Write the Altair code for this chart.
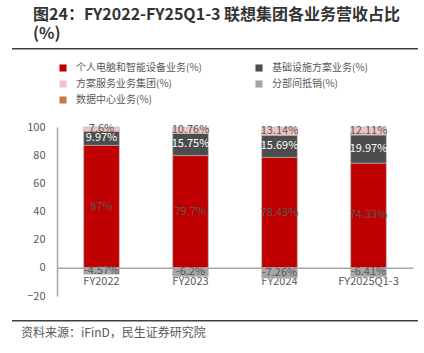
import altair as alt
import pandas as pd

FONT = "Noto Sans CJK SC"

cats = ["FY2022", "FY2023", "FY2024", "FY2025Q1-3"]
series = ["个人电脑和智能设备业务(%)", "基础设施方案业务(%)", "方案服务业务集团(%)",
          "分部间抵销(%)", "数据中心业务(%)"]
pc = [87, 79.7, 78.43, 74.33]
isg = [9.97, 15.75, 15.69, 19.97]
ssg = [7.6, 10.76, 13.14, 12.11]
elim = [-4.57, -6.2, -7.26, -6.41]
dc = [None, None, None, None]
colors = ["#C00000", "#4D4D4D", "#F2C4C4", "#A6A6A6", "#C87941"]
label_colors = ["#595959", "#FFFFFF", "#595959", "#595959", "#595959"]
legend_order = [0, 2, 4, 1, 3]  # column-major fill -> reads row by row as in reference
y_ticks = [-20, 0, 20, 40, 60, 80, 100]

title1 = "图24：FY2022-FY25Q1-3 联想集团各业务营收占比"
title2 = "(%)"
source = "资料来源：iFinD，民生证券研究院"

rows = []
for i, c in enumerate(cats):
    for k, vals in enumerate([pc, isg, ssg, elim, dc]):
        v = vals[i]
        if v is None:
            continue
        rows.append({"cat": c, "series": series[k], "value": v, "order": k,
                     "label": f"{v:g}%", "lc": label_colors[k]})
df = pd.DataFrame(rows)

leg_domain = [series[k] for k in legend_order]
leg_range = [colors[k] for k in legend_order]

base = alt.Chart(df).transform_stack(
    stack="value", groupby=["cat"], as_=["y0", "y1"],
    sort=[alt.SortField(field="order", order="ascending")]
).transform_calculate(
    y0c="max(min(datum.y0, 100), -20)",
    y1c="max(min(datum.y1, 100), -20)",
).transform_calculate(
    mid="(datum.y0c + datum.y1c) / 2"
)

yaxis = alt.Axis(title=None, values=y_ticks, grid=False, ticks=False, tickSize=0,
                 labelPadding=12, labelFontSize=11, labelColor="#595959", labelFont=FONT,
                 domainColor="#A6A6A6", domainWidth=1.5, labelOverlap=False)
xaxis = alt.Axis(title=None, orient="bottom", offset=-28.2, ticks=False, tickSize=0,
                 labelPadding=8, labelFontSize=11, labelColor="#595959", labelFont=FONT,
                 domainColor="#A6A6A6", domainWidth=1.5, labelAngle=0, grid=False)

bars = base.mark_bar(stroke="#B5B5B5", strokeWidth=0.6).encode(
    x=alt.X("cat:N", sort=cats, scale=alt.Scale(paddingInner=0.6, paddingOuter=0.3), axis=xaxis),
    y=alt.Y("y0c:Q", scale=alt.Scale(domain=[-20, 100], nice=False, zero=False), axis=yaxis),
    y2="y1c:Q",
    color=alt.Color("series:N", scale=alt.Scale(domain=leg_domain, range=leg_range),
                    legend=alt.Legend(title=None, orient="none", legendX=1, legendY=-64,
                                      columns=2, columnPadding=52, rowPadding=6,
                                      symbolType="square", symbolSize=50, symbolStrokeWidth=0,
                                      labelFontSize=10, labelColor="#595959", labelFont=FONT,
                                      labelOffset=8)),
)

labels = base.mark_text(fontSize=11, font=FONT).encode(
    x=alt.X("cat:N", sort=cats, axis=xaxis),
    y=alt.Y("mid:Q", axis=yaxis),
    text="label:N",
    color=alt.Color("lc:N", scale=None),
)

t1 = alt.Chart(pd.DataFrame({"t": [title1]})).mark_text(
    align="left", baseline="middle", fontSize=16, fontWeight="bold", font=FONT, color="#333333"
).encode(x=alt.value(-24), y=alt.value(15 - 127), text="t:N")
t2 = alt.Chart(pd.DataFrame({"t": [title2]})).mark_text(
    align="left", baseline="middle", fontSize=16, fontWeight="bold", font=FONT, color="#333333"
).encode(x=alt.value(-24), y=alt.value(34 - 127), text="t:N")
src = alt.Chart(pd.DataFrame({"t": [source]})).mark_text(
    align="left", baseline="middle", fontSize=12, font=FONT, color="#595959"
).encode(x=alt.value(21 - 57), y=alt.value(333 - 127), text="t:N")
rule1 = alt.Chart(pd.DataFrame({"a": [0]})).mark_rule(color="#404040", strokeWidth=1.5).encode(
    x=alt.value(12 - 57), x2=alt.value(418 - 57), y=alt.value(48.7 - 127))
rule2 = alt.Chart(pd.DataFrame({"a": [0]})).mark_rule(color="#404040", strokeWidth=1.5).encode(
    x=alt.value(12 - 57), x2=alt.value(418 - 57), y=alt.value(320.7 - 127))

chart = alt.layer(bars, labels, t1, t2, src, rule1, rule2).properties(
    width=356, height=169,
    autosize=alt.AutoSizeParams(type="none"),
    padding={"left": 57, "top": 127, "right": 11, "bottom": 57},
    background="white",
).configure_view(stroke=None)

chart.save("out.html", embed_options={"renderer": "svg", "actions": False})
